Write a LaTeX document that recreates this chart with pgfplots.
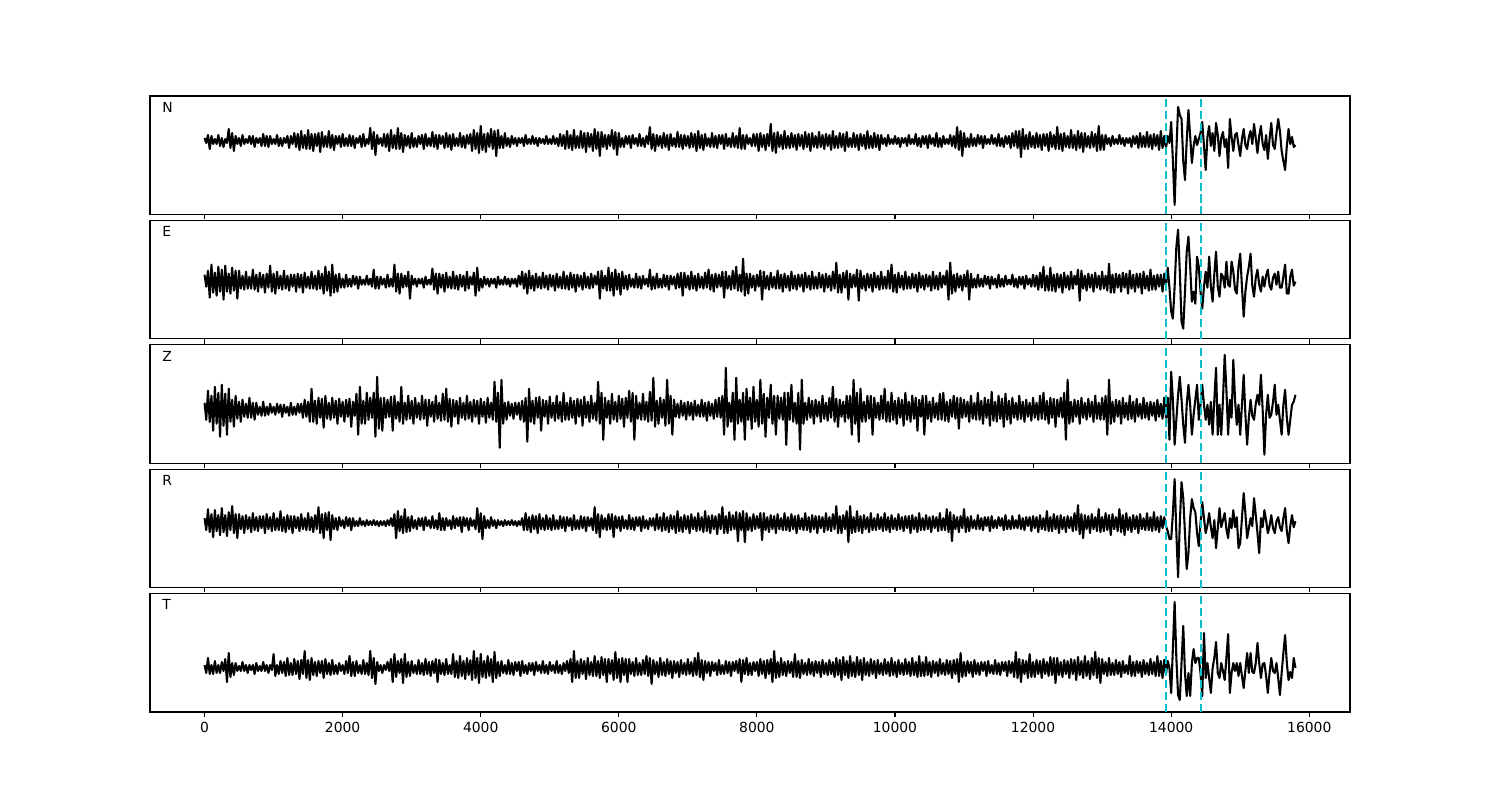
\documentclass[border=0pt]{standalone}
\usepackage{fontspec}
\setmainfont{DejaVu Sans}
\usepackage{pgfplots}
\usepackage{pgfplotstable}
\pgfplotsset{compat=1.18}
\definecolor{pick}{RGB}{12,190,200}

% one value every 25 samples, amplitudes in panel pixels; one line = 1000 samples
\pgfplotstableread[row sep=\\,header=false]{
3\\ -2\\ 6\\ -8\\ 5\\ -3\\ 2\\ -3\\ 6\\ -5\\ 3\\ -6\\ 2\\ -2\\ 12\\ -7\\ 8\\ -10\\ 5\\ -3\\ 3\\ -5\\ 6\\ -3\\ 2\\ -2\\ 5\\ -3\\ 5\\ -6\\ 3\\ -2\\ 3\\ -5\\ 7\\ -5\\ 5\\ -6\\ 5\\ -3\\
2\\ -3\\ 6\\ -5\\ 3\\ -5\\ 3\\ -2\\ 5\\ -7\\ 5\\ -3\\ 8\\ -6\\ 7\\ -9\\ 10\\ -7\\ 6\\ -8\\ 11\\ -8\\ 7\\ -10\\ 7\\ -5\\ 8\\ -11\\ 9\\ -6\\ 5\\ -6\\ 10\\ -7\\ 6\\ -9\\ 5\\ -3\\ 5\\ -6\\
7\\ -5\\ 3\\ -5\\ 6\\ -5\\ 5\\ -7\\ 3\\ -2\\ 5\\ -6\\ 7\\ -5\\ 2\\ -3\\ 13\\ -8\\ 9\\ -14\\ 6\\ -3\\ 3\\ -5\\ 7\\ -6\\ 7\\ -10\\ 11\\ -7\\ 6\\ -8\\ 13\\ -8\\ 8\\ -11\\ 6\\ -5\\ 5\\ -7\\
8\\ -6\\ 3\\ -6\\ 5\\ -3\\ 6\\ -8\\ 7\\ -5\\ 3\\ -5\\ 9\\ -6\\ 6\\ -8\\ 6\\ -3\\ 5\\ -7\\ 8\\ -6\\ 6\\ -9\\ 7\\ -5\\ 3\\ -5\\ 8\\ -6\\ 5\\ -7\\ 6\\ -3\\ 7\\ -10\\ 11\\ -8\\ 8\\ -12\\
15\\ -9\\ 7\\ -11\\ 8\\ -6\\ 12\\ -8\\ 10\\ -15\\ 11\\ -7\\ 5\\ -7\\ 8\\ -5\\ 3\\ -6\\ 5\\ -3\\ 3\\ -5\\ 3\\ -2\\ 3\\ -5\\ 6\\ -3\\ 2\\ -3\\ 5\\ -3\\ 3\\ -5\\ 3\\ -2\\ 2\\ -3\\ 5\\ -3\\
2\\ -3\\ 5\\ -3\\ 3\\ -5\\ 7\\ -5\\ 6\\ -8\\ 10\\ -7\\ 6\\ -9\\ 11\\ -7\\ 5\\ -7\\ 10\\ -7\\ 8\\ -11\\ 8\\ -6\\ 7\\ -10\\ 12\\ -8\\ 9\\ -15\\ 9\\ -6\\ 6\\ -8\\ 6\\ -5\\ 11\\ -8\\ 9\\ -14\\
8\\ -6\\ 3\\ -6\\ 5\\ -3\\ 5\\ -7\\ 6\\ -3\\ 3\\ -5\\ 7\\ -5\\ 3\\ -6\\ 5\\ -3\\ 14\\ -8\\ 7\\ -10\\ 6\\ -5\\ 5\\ -7\\ 8\\ -6\\ 6\\ -9\\ 7\\ -5\\ 3\\ -6\\ 9\\ -6\\ 6\\ -8\\ 6\\ -5\\
5\\ -7\\ 8\\ -6\\ 7\\ -10\\ 10\\ -7\\ 6\\ -9\\ 7\\ -5\\ 3\\ -6\\ 8\\ -6\\ 5\\ -7\\ 6\\ -3\\ 6\\ -8\\ 7\\ -5\\ 3\\ -6\\ 8\\ -6\\ 5\\ -7\\ 13\\ -8\\ 6\\ -8\\ 6\\ -3\\ 3\\ -5\\ 7\\ -5\\
7\\ -10\\ 8\\ -6\\ 6\\ -9\\ 7\\ -5\\ 17\\ -10\\ 8\\ -12\\ 9\\ -6\\ 6\\ -8\\ 10\\ -7\\ 5\\ -7\\ 8\\ -6\\ 6\\ -9\\ 7\\ -5\\ 6\\ -8\\ 9\\ -6\\ 7\\ -10\\ 8\\ -6\\ 5\\ -7\\ 9\\ -6\\ 6\\ -8\\
7\\ -5\\ 6\\ -9\\ 10\\ -7\\ 5\\ -7\\ 8\\ -6\\ 7\\ -10\\ 9\\ -6\\ 3\\ -6\\ 8\\ -6\\ 6\\ -9\\ 7\\ -5\\ 6\\ -8\\ 10\\ -7\\ 5\\ -7\\ 8\\ -6\\ 6\\ -9\\ 6\\ -3\\ 3\\ -5\\ 6\\ -3\\ 2\\ -3\\
5\\ -3\\ 3\\ -6\\ 3\\ -2\\ 3\\ -5\\ 6\\ -3\\ 2\\ -3\\ 7\\ -5\\ 3\\ -6\\ 5\\ -3\\ 5\\ -7\\ 6\\ -3\\ 3\\ -5\\ 8\\ -6\\ 3\\ -6\\ 5\\ -3\\ 2\\ -3\\ 6\\ -5\\ 5\\ -7\\ 14\\ -9\\ 10\\ -15\\
8\\ -6\\ 3\\ -6\\ 7\\ -5\\ 3\\ -5\\ 6\\ -3\\ 5\\ -7\\ 5\\ -3\\ 2\\ -3\\ 6\\ -3\\ 3\\ -5\\ 7\\ -5\\ 3\\ -6\\ 5\\ -3\\ 5\\ -7\\ 8\\ -5\\ 10\\ -7\\ 10\\ -16\\ 12\\ -8\\ 6\\ -8\\ 9\\ -6\\
5\\ -7\\ 8\\ -6\\ 6\\ -9\\ 7\\ -5\\ 7\\ -10\\ 9\\ -6\\ 6\\ -8\\ 14\\ -8\\ 7\\ -10\\ 8\\ -6\\ 5\\ -7\\ 11\\ -7\\ 6\\ -9\\ 10\\ -7\\ 8\\ -11\\ 8\\ -6\\ 5\\ -7\\ 9\\ -6\\ 7\\ -10\\ 15\\ -9\\
6\\ -9\\ 6\\ -3\\ 3\\ -5\\ 5\\ -3\\ 2\\ -3\\ 6\\ -3\\ 3\\ -5\\ 3\\ -2\\ 3\\ -6\\ 5\\ -3\\ 5\\ -7\\ 8\\ -6\\ 5\\ -6\\ 9\\ -6\\ 6\\ -8\\ 7\\ -5\\ 6\\ -9\\ 10\\ -7\\ 5\\ -7\\ 5\\ -2\\
19\\ -20\\ -64\\ -10\\ 34\\ 26\\ 22\\ -20\\ -39\\ 0\\ 31\\ 5\\ -22\\ -5\\ 5\\ -4\\ 2\\ 8\\ 19\\ -5\\ -29\\ 4\\ 15\\ -5\\ 8\\ -10\\ 18\\ 6\\ -15\\ 3\\ 9\\ -6\\ 2\\ -27\\ 22\\ 4\\ -10\\ 6\\ 8\\ -4\\
-15\\ 2\\ 12\\ -4\\ -8\\ 4\\ 10\\ -3\\ 17\\ 3\\ -12\\ 5\\ 15\\ -3\\ -9\\ 6\\ -18\\ 2\\ 18\\ -4\\ -8\\ 8\\ 22\\ 10\\ -10\\ -20\\ -29\\ -5\\ 12\\ -3\\ 4\\ -6\\ -4\\
}\tN

\pgfplotstableread[row sep=\\,header=false]{
7\\ -5\\ 11\\ -16\\ 17\\ -11\\ 9\\ -14\\ 15\\ -10\\ 12\\ -18\\ 16\\ -10\\ 8\\ -12\\ 14\\ -9\\ 11\\ -17\\ 11\\ -7\\ 6\\ -8\\ 10\\ -7\\ 5\\ -7\\ 12\\ -8\\ 7\\ -10\\ 9\\ -6\\ 7\\ -11\\ 8\\ -6\\ 16\\ -10\\
8\\ -12\\ 10\\ -7\\ 6\\ -8\\ 11\\ -7\\ 6\\ -9\\ 7\\ -5\\ 7\\ -10\\ 8\\ -6\\ 7\\ -11\\ 9\\ -6\\ 5\\ -7\\ 10\\ -7\\ 6\\ -8\\ 11\\ -7\\ 8\\ -12\\ 15\\ -9\\ 10\\ -14\\ 17\\ -11\\ 7\\ -10\\ 8\\ -6\\
3\\ -6\\ 7\\ -5\\ 3\\ -5\\ 6\\ -3\\ 5\\ -7\\ 5\\ -3\\ 2\\ -3\\ 6\\ -3\\ 3\\ -5\\ 12\\ -7\\ 5\\ -7\\ 5\\ -3\\ 3\\ -6\\ 7\\ -5\\ 3\\ -5\\ 17\\ -10\\ 8\\ -12\\ 8\\ -6\\ 6\\ -5\\ 10\\ -17\\
6\\ -3\\ 3\\ -5\\ 3\\ -2\\ 3\\ -6\\ 5\\ -3\\ 2\\ -3\\ 13\\ -8\\ 8\\ -12\\ 8\\ -6\\ 7\\ -10\\ 9\\ -6\\ 5\\ -7\\ 10\\ -7\\ 6\\ -8\\ 7\\ -5\\ 6\\ -9\\ 10\\ -7\\ 5\\ -3\\ 9\\ -14\\ 14\\ -9\\
3\\ -6\\ 5\\ -3\\ 3\\ -5\\ 3\\ -2\\ 3\\ -6\\ 5\\ -3\\ 2\\ -3\\ 5\\ -3\\ 3\\ -5\\ 3\\ -2\\ 3\\ -5\\ 6\\ -3\\ 10\\ -7\\ 8\\ -12\\ 11\\ -7\\ 6\\ -9\\ 8\\ -6\\ 5\\ -7\\ 9\\ -6\\ 6\\ -8\\
7\\ -5\\ 6\\ -9\\ 8\\ -6\\ 5\\ -7\\ 10\\ -7\\ 6\\ -8\\ 9\\ -6\\ 7\\ -10\\ 7\\ -5\\ 6\\ -8\\ 9\\ -6\\ 5\\ -7\\ 8\\ -6\\ 6\\ -3\\ 10\\ -17\\ 11\\ -7\\ 6\\ -9\\ 14\\ -9\\ 9\\ -14\\ 12\\ -8\\
8\\ -13\\ 10\\ -7\\ 6\\ -8\\ 7\\ -5\\ 3\\ -6\\ 8\\ -6\\ 5\\ -7\\ 6\\ -3\\ 3\\ -5\\ 12\\ -8\\ 5\\ -7\\ 8\\ -6\\ 3\\ -6\\ 7\\ -5\\ 6\\ -8\\ 6\\ -3\\ 5\\ -7\\ 8\\ -6\\ 9\\ -14\\ 9\\ -6\\
6\\ -8\\ 10\\ -7\\ 6\\ -9\\ 8\\ -6\\ 5\\ -7\\ 9\\ -6\\ 12\\ -8\\ 7\\ -10\\ 8\\ -6\\ 7\\ -5\\ 10\\ -16\\ 10\\ -7\\ 6\\ -8\\ 11\\ -7\\ 15\\ -9\\ 7\\ -10\\ 23\\ -14\\ 8\\ -12\\ 8\\ -6\\ 6\\ -9\\
7\\ -5\\ 11\\ -18\\ 10\\ -7\\ 6\\ -8\\ 9\\ -6\\ 5\\ -7\\ 11\\ -7\\ 7\\ -10\\ 8\\ -6\\ 6\\ -9\\ 10\\ -7\\ 6\\ -8\\ 7\\ -5\\ 7\\ -10\\ 9\\ -6\\ 6\\ -8\\ 10\\ -7\\ 5\\ -7\\ 9\\ -6\\ 7\\ -10\\
8\\ -6\\ 6\\ -9\\ 10\\ -7\\ 19\\ -11\\ 7\\ -11\\ 9\\ -6\\ 11\\ -18\\ 8\\ -6\\ 7\\ -5\\ 12\\ -19\\ 11\\ -7\\ 6\\ -9\\ 8\\ -6\\ 7\\ -10\\ 9\\ -6\\ 6\\ -8\\ 10\\ -7\\ 5\\ -7\\ 11\\ -7\\ 17\\ -10\\
7\\ -11\\ 9\\ -6\\ 6\\ -8\\ 10\\ -7\\ 5\\ -7\\ 8\\ -6\\ 7\\ -10\\ 9\\ -6\\ 6\\ -8\\ 7\\ -5\\ 6\\ -9\\ 10\\ -7\\ 6\\ -8\\ 9\\ -6\\ 6\\ -3\\ 11\\ -18\\ 19\\ -12\\ 7\\ -10\\ 8\\ -6\\ 6\\ -9\\
7\\ -5\\ 11\\ -18\\ 8\\ -6\\ 3\\ -6\\ 7\\ -5\\ 3\\ -5\\ 6\\ -3\\ 5\\ -7\\ 5\\ -3\\ 3\\ -6\\ 7\\ -5\\ 3\\ -5\\ 6\\ -3\\ 2\\ -3\\ 7\\ -5\\ 3\\ -6\\ 5\\ -3\\ 5\\ -7\\ 6\\ -3\\ 3\\ -5\\
7\\ -5\\ 6\\ -8\\ 9\\ -6\\ 15\\ -9\\ 6\\ -9\\ 14\\ -9\\ 7\\ -10\\ 8\\ -6\\ 7\\ -11\\ 9\\ -6\\ 6\\ -8\\ 10\\ -7\\ 6\\ -3\\ 12\\ -19\\ 11\\ -7\\ 6\\ -9\\ 8\\ -6\\ 7\\ -10\\ 9\\ -6\\ 6\\ -8\\
10\\ -7\\ 6\\ -9\\ 18\\ -11\\ 7\\ -11\\ 8\\ -6\\ 7\\ -10\\ 9\\ -6\\ 8\\ -12\\ 11\\ -7\\ 7\\ -10\\ 8\\ -6\\ 8\\ -12\\ 10\\ -7\\ 6\\ -9\\ 12\\ -8\\ 6\\ -8\\ 7\\ -5\\ 7\\ -10\\ 8\\ -3\\ 14\\ -6\\
-30\\ -37\\ -5\\ 35\\ 52\\ 10\\ -40\\ -47\\ -10\\ 30\\ 45\\ 15\\ -20\\ -10\\ -22\\ 25\\ 15\\ -10\\ -27\\ -5\\ 10\\ -6\\ 25\\ -5\\ -20\\ 8\\ 30\\ -5\\ -15\\ 8\\ 5\\ -6\\ 20\\ -3\\ -5\\ 20\\ 10\\ -8\\ -12\\ 15\\
28\\ -5\\ -35\\ -10\\ 5\\ 15\\ 28\\ -4\\ -15\\ 4\\ 12\\ -3\\ -10\\ 5\\ -5\\ 6\\ 12\\ -4\\ -8\\ 4\\ 8\\ -3\\ 10\\ -6\\ -6\\ 5\\ 17\\ -12\\ -12\\ 5\\ 12\\ -4\\ 0\\
}\tE

\pgfplotstableread[row sep=\\,header=false]{
7\\ -10\\ 19\\ -12\\ 14\\ -21\\ 23\\ -14\\ 17\\ -27\\ 25\\ -16\\ 16\\ -25\\ 21\\ -12\\ 10\\ -17\\ 14\\ -9\\ 8\\ -12\\ 10\\ -7\\ 6\\ -8\\ 12\\ -8\\ 7\\ -10\\ 7\\ -5\\ 3\\ -6\\ 8\\ -6\\ 3\\ -5\\ 6\\ -3\\
3\\ -5\\ 6\\ -3\\ 5\\ -7\\ 5\\ -3\\ 3\\ -6\\ 7\\ -5\\ 3\\ -5\\ 6\\ -3\\ 6\\ -8\\ 10\\ -7\\ 8\\ -12\\ 21\\ -12\\ 9\\ -14\\ 12\\ -8\\ 11\\ -18\\ 14\\ -9\\ 7\\ -10\\ 12\\ -8\\ 9\\ -14\\ 11\\ -7\\
8\\ -12\\ 10\\ -7\\ 11\\ -17\\ 8\\ -6\\ 16\\ -25\\ 23\\ -14\\ 9\\ -14\\ 17\\ -10\\ 12\\ -8\\ 17\\ -27\\ 33\\ -19\\ 12\\ -21\\ 12\\ -8\\ 10\\ -7\\ 13\\ -21\\ 14\\ -9\\ 8\\ -12\\ 23\\ -14\\ 7\\ -10\\ 14\\ -9\\
9\\ -14\\ 12\\ -8\\ 7\\ -10\\ 14\\ -9\\ 10\\ -16\\ 10\\ -7\\ 8\\ -12\\ 14\\ -9\\ 7\\ -11\\ 16\\ -10\\ 21\\ -12\\ 11\\ -17\\ 10\\ -7\\ 9\\ -14\\ 12\\ -8\\ 7\\ -10\\ 14\\ -9\\ 8\\ -12\\ 10\\ -7\\ 9\\ -14\\
11\\ -7\\ 8\\ -13\\ 12\\ -8\\ 7\\ -10\\ 28\\ -12\\ 17\\ -38\\ 30\\ -14\\ 7\\ -10\\ 8\\ -6\\ 6\\ -9\\ 7\\ -5\\ 7\\ -10\\ 9\\ -12\\ 12\\ -32\\ 21\\ -12\\ 9\\ -14\\ 12\\ -8\\ 13\\ -21\\ 10\\ -7\\ 9\\ -14\\
13\\ -8\\ 7\\ -11\\ 14\\ -9\\ 8\\ -12\\ 17\\ -10\\ 7\\ -10\\ 12\\ -8\\ 9\\ -14\\ 11\\ -7\\ 10\\ -16\\ 13\\ -8\\ 8\\ -12\\ 14\\ -9\\ 7\\ -11\\ 28\\ -14\\ 17\\ -30\\ 12\\ -8\\ 9\\ -14\\ 16\\ -10\\ 8\\ -12\\
14\\ -9\\ 11\\ -17\\ 12\\ -8\\ 19\\ -12\\ 17\\ -30\\ 14\\ -9\\ 7\\ -10\\ 16\\ -10\\ 8\\ -12\\ 18\\ -11\\ 32\\ -17\\ 9\\ -14\\ 12\\ -8\\ 10\\ -16\\ 30\\ -14\\ 14\\ -25\\ 10\\ -7\\ 6\\ -8\\ 9\\ -6\\ 7\\ -10\\
8\\ -6\\ 7\\ -10\\ 9\\ -6\\ 5\\ -7\\ 10\\ -7\\ 7\\ -11\\ 8\\ -6\\ 6\\ -9\\ 10\\ -7\\ 12\\ -8\\ 14\\ -25\\ 42\\ -17\\ 7\\ -12\\ 17\\ -30\\ 32\\ -14\\ 10\\ -12\\ 17\\ -30\\ 21\\ -10\\ 12\\ -19\\ 23\\ -12\\
10\\ -17\\ 30\\ -14\\ 16\\ -27\\ 12\\ -8\\ 25\\ -14\\ 14\\ -25\\ 14\\ -9\\ 12\\ -10\\ 17\\ -35\\ 17\\ -10\\ 25\\ -12\\ 7\\ -14\\ 17\\ -40\\ 30\\ -14\\ 7\\ -10\\ 12\\ -8\\ 9\\ -14\\ 10\\ -7\\ 8\\ -12\\ 14\\ -9\\
7\\ -11\\ 12\\ -8\\ 23\\ -12\\ 11\\ -17\\ 10\\ -7\\ 8\\ -12\\ 14\\ -9\\ 14\\ -25\\ 30\\ -14\\ 17\\ -32\\ 21\\ -12\\ 8\\ -12\\ 14\\ -9\\ 14\\ -25\\ 12\\ -8\\ 7\\ -10\\ 14\\ -9\\ 21\\ -12\\ 8\\ -12\\ 17\\ -10\\
9\\ -14\\ 12\\ -8\\ 10\\ -16\\ 17\\ -10\\ 8\\ -12\\ 14\\ -9\\ 12\\ -21\\ 10\\ -7\\ 14\\ -25\\ 14\\ -9\\ 8\\ -12\\ 12\\ -8\\ 7\\ -10\\ 16\\ -10\\ 17\\ -11\\ 8\\ -12\\ 10\\ -7\\ 14\\ -9\\ 12\\ -19\\ 12\\ -8\\
10\\ -7\\ 8\\ -12\\ 14\\ -9\\ 7\\ -10\\ 17\\ -10\\ 9\\ -14\\ 12\\ -8\\ 10\\ -16\\ 18\\ -11\\ 8\\ -12\\ 14\\ -9\\ 11\\ -17\\ 16\\ -10\\ 9\\ -14\\ 12\\ -8\\ 7\\ -10\\ 14\\ -9\\ 8\\ -12\\ 10\\ -7\\ 7\\ -11\\
12\\ -8\\ 7\\ -10\\ 14\\ -9\\ 17\\ -10\\ 9\\ -14\\ 12\\ -8\\ 11\\ -17\\ 10\\ -7\\ 12\\ -8\\ 17\\ -30\\ 30\\ -14\\ 8\\ -12\\ 10\\ -7\\ 9\\ -14\\ 12\\ -8\\ 7\\ -10\\ 11\\ -7\\ 8\\ -12\\ 14\\ -9\\ 7\\ -10\\
12\\ -10\\ 14\\ -25\\ 30\\ -14\\ 8\\ -12\\ 10\\ -7\\ 9\\ -14\\ 12\\ -8\\ 7\\ -10\\ 14\\ -9\\ 8\\ -12\\ 11\\ -7\\ 6\\ -9\\ 12\\ -8\\ 7\\ -10\\ 8\\ -6\\ 7\\ -11\\ 10\\ -7\\ 6\\ -9\\ 12\\ -8\\ 12\\ -30\\
38\\ 10\\ -35\\ -10\\ 15\\ 33\\ 10\\ -15\\ -33\\ 5\\ 25\\ 5\\ -25\\ -5\\ 10\\ 25\\ -10\\ 5\\ 25\\ 5\\ -10\\ 5\\ -15\\ 8\\ -25\\ 10\\ 42\\ -25\\ 5\\ -25\\ 10\\ 55\\ 20\\ -25\\ 10\\ -8\\ 50\\ 10\\ -15\\ 5\\
-25\\ 5\\ 35\\ -5\\ -35\\ -8\\ 10\\ -6\\ -10\\ 6\\ 15\\ 5\\ 35\\ 0\\ -45\\ -5\\ 15\\ -8\\ -5\\ 8\\ 25\\ -5\\ 5\\ -10\\ -25\\ 5\\ 20\\ -8\\ -25\\ -10\\ 5\\ 8\\ 15\\
}\tZ

\pgfplotstableread[row sep=\\,header=false]{
5\\ -7\\ 14\\ -9\\ 9\\ -14\\ 13\\ -8\\ 8\\ -12\\ 15\\ -9\\ 8\\ -13\\ 11\\ -7\\ 17\\ -10\\ 9\\ -15\\ 9\\ -6\\ 7\\ -10\\ 8\\ -6\\ 6\\ -9\\ 10\\ -7\\ 6\\ -8\\ 7\\ -5\\ 7\\ -10\\ 9\\ -6\\ 6\\ -8\\
10\\ -7\\ 5\\ -7\\ 12\\ -8\\ 6\\ -9\\ 8\\ -6\\ 7\\ -10\\ 7\\ -5\\ 6\\ -8\\ 9\\ -6\\ 5\\ -7\\ 10\\ -7\\ 6\\ -9\\ 8\\ -6\\ 16\\ -10\\ 9\\ -15\\ 10\\ -7\\ 11\\ -17\\ 8\\ -6\\ 5\\ -7\\ 6\\ -3\\
3\\ -5\\ 6\\ -3\\ 5\\ -7\\ 5\\ -3\\ 2\\ -3\\ 5\\ -2\\ 2\\ -3\\ 3\\ -2\\ 2\\ -2\\ 3\\ -2\\ 2\\ -3\\ 2\\ -2\\ 2\\ -3\\ 3\\ -2\\ 5\\ -3\\ 9\\ -15\\ 12\\ -8\\ 7\\ -10\\ 14\\ -9\\ 6\\ -8\\
7\\ -5\\ 3\\ -6\\ 5\\ -3\\ 5\\ -7\\ 6\\ -3\\ 3\\ -5\\ 7\\ -5\\ 3\\ -6\\ 10\\ -7\\ 5\\ -7\\ 5\\ -3\\ 3\\ -6\\ 7\\ -5\\ 5\\ -3\\ 6\\ -9\\ 6\\ -3\\ 5\\ -7\\ 5\\ -3\\ 3\\ -6\\ 15\\ -9\\
10\\ -16\\ 7\\ -5\\ 3\\ -5\\ 6\\ -3\\ 3\\ -5\\ 3\\ -2\\ 2\\ -3\\ 3\\ -2\\ 2\\ -2\\ 3\\ -2\\ 2\\ -3\\ 2\\ -2\\ 5\\ -7\\ 10\\ -7\\ 6\\ -9\\ 8\\ -6\\ 7\\ -10\\ 9\\ -6\\ 5\\ -7\\ 8\\ -6\\
5\\ -7\\ 8\\ -6\\ 3\\ -6\\ 7\\ -5\\ 6\\ -8\\ 6\\ -3\\ 5\\ -7\\ 8\\ -6\\ 3\\ -6\\ 7\\ -5\\ 6\\ -8\\ 6\\ -3\\ 5\\ -7\\ 16\\ -10\\ 9\\ -14\\ 8\\ -6\\ 5\\ -7\\ 9\\ -6\\ 9\\ -14\\ 7\\ -5\\
6\\ -8\\ 7\\ -5\\ 3\\ -6\\ 8\\ -6\\ 5\\ -7\\ 6\\ -3\\ 6\\ -8\\ 7\\ -5\\ 3\\ -6\\ 5\\ -3\\ 5\\ -7\\ 9\\ -6\\ 6\\ -8\\ 10\\ -7\\ 6\\ -9\\ 8\\ -6\\ 7\\ -10\\ 12\\ -8\\ 6\\ -9\\ 8\\ -6\\
7\\ -10\\ 9\\ -6\\ 6\\ -8\\ 10\\ -7\\ 6\\ -9\\ 12\\ -8\\ 7\\ -10\\ 8\\ -6\\ 7\\ -11\\ 9\\ -6\\ 16\\ -10\\ 7\\ -10\\ 11\\ -7\\ 8\\ -6\\ 11\\ -18\\ 10\\ -7\\ 12\\ -19\\ 10\\ -7\\ 6\\ -8\\ 9\\ -6\\
7\\ -5\\ 10\\ -17\\ 10\\ -7\\ 6\\ -9\\ 8\\ -6\\ 7\\ -10\\ 9\\ -6\\ 5\\ -7\\ 10\\ -7\\ 6\\ -8\\ 9\\ -6\\ 7\\ -10\\ 8\\ -6\\ 5\\ -7\\ 10\\ -7\\ 6\\ -9\\ 8\\ -6\\ 7\\ -10\\ 7\\ -5\\ 6\\ -9\\
10\\ -7\\ 6\\ -8\\ 9\\ -6\\ 17\\ -10\\ 7\\ -10\\ 8\\ -6\\ 12\\ -19\\ 17\\ -10\\ 6\\ -9\\ 12\\ -8\\ 7\\ -10\\ 8\\ -6\\ 6\\ -9\\ 10\\ -7\\ 5\\ -7\\ 9\\ -6\\ 6\\ -8\\ 10\\ -7\\ 6\\ -9\\ 8\\ -6\\
5\\ -7\\ 9\\ -6\\ 6\\ -8\\ 7\\ -5\\ 7\\ -10\\ 8\\ -6\\ 6\\ -9\\ 10\\ -7\\ 5\\ -7\\ 8\\ -6\\ 6\\ -9\\ 7\\ -5\\ 6\\ -8\\ 10\\ -7\\ 5\\ -7\\ 14\\ -9\\ 11\\ -18\\ 8\\ -6\\ 6\\ -9\\ 7\\ -5\\
14\\ -9\\ 6\\ -8\\ 7\\ -5\\ 3\\ -6\\ 8\\ -6\\ 5\\ -7\\ 6\\ -3\\ 6\\ -8\\ 7\\ -5\\ 3\\ -5\\ 6\\ -3\\ 5\\ -7\\ 8\\ -6\\ 3\\ -6\\ 7\\ -5\\ 3\\ -5\\ 8\\ -6\\ 5\\ -7\\ 6\\ -3\\ 6\\ -8\\
7\\ -5\\ 6\\ -9\\ 8\\ -6\\ 5\\ -7\\ 12\\ -8\\ 6\\ -8\\ 9\\ -6\\ 7\\ -10\\ 8\\ -6\\ 6\\ -9\\ 7\\ -5\\ 6\\ -8\\ 10\\ -7\\ 18\\ -11\\ 9\\ -15\\ 8\\ -6\\ 7\\ -10\\ 9\\ -6\\ 6\\ -8\\ 14\\ -9\\
6\\ -8\\ 10\\ -7\\ 8\\ -12\\ 9\\ -6\\ 6\\ -8\\ 14\\ -9\\ 8\\ -12\\ 10\\ -7\\ 6\\ -9\\ 8\\ -6\\ 7\\ -10\\ 9\\ -6\\ 5\\ -7\\ 10\\ -7\\ 6\\ -8\\ 11\\ -7\\ 6\\ -9\\ 7\\ -5\\ 6\\ -3\\ -8\\ -16\\
-16\\ 10\\ 44\\ -10\\ -54\\ 0\\ 41\\ 25\\ -10\\ -46\\ -30\\ 5\\ 24\\ 15\\ 11\\ -10\\ -23\\ 0\\ 21\\ 5\\ -10\\ -2\\ 10\\ -4\\ -15\\ 3\\ -25\\ -5\\ 15\\ -4\\ 3\\ 10\\ -6\\ -15\\ 5\\ -5\\ 13\\ -4\\ 6\\ -25\\
-20\\ 5\\ 30\\ 10\\ -15\\ -5\\ 5\\ -3\\ 25\\ 8\\ -10\\ -30\\ 5\\ -4\\ 13\\ 3\\ -10\\ -3\\ 8\\ -5\\ -10\\ 2\\ 6\\ -4\\ -8\\ 5\\ 15\\ -8\\ -20\\ -3\\ 8\\ -4\\ 2\\
}\tR

\pgfplotstableread[row sep=\\,header=false]{
3\\ -5\\ 10\\ -6\\ 3\\ -6\\ 7\\ -5\\ 3\\ -5\\ 6\\ -3\\ 9\\ -14\\ 15\\ -9\\ 5\\ -7\\ 5\\ -3\\ 2\\ -3\\ 6\\ -3\\ 3\\ -5\\ 3\\ -2\\ 3\\ -6\\ 5\\ -3\\ 2\\ -3\\ 6\\ -3\\ 3\\ -5\\ 3\\ -2\\
14\\ -8\\ 3\\ -6\\ 7\\ -5\\ 6\\ -8\\ 10\\ -7\\ 5\\ -7\\ 9\\ -6\\ 7\\ -11\\ 8\\ -6\\ 17\\ -10\\ 8\\ -12\\ 10\\ -7\\ 6\\ -8\\ 7\\ -5\\ 7\\ -10\\ 9\\ -6\\ 5\\ -7\\ 8\\ -6\\ 3\\ -6\\ 5\\ -3\\
3\\ -6\\ 7\\ -5\\ 12\\ -8\\ 6\\ -8\\ 7\\ -5\\ 3\\ -6\\ 8\\ -6\\ 5\\ -7\\ 17\\ -10\\ 10\\ -16\\ 6\\ -3\\ 3\\ -5\\ 3\\ -2\\ 6\\ -3\\ 9\\ -14\\ 14\\ -9\\ 7\\ -5\\ 9\\ -15\\ 14\\ -9\\ 6\\ -8\\
7\\ -5\\ 3\\ -6\\ 8\\ -6\\ 5\\ -7\\ 9\\ -6\\ 6\\ -8\\ 7\\ -5\\ 9\\ -14\\ 8\\ -6\\ 5\\ -7\\ 9\\ -6\\ 3\\ -6\\ 14\\ -9\\ 7\\ -10\\ 12\\ -8\\ 7\\ -11\\ 10\\ -7\\ 8\\ -12\\ 17\\ -10\\ 10\\ -15\\
14\\ -9\\ 7\\ -10\\ 12\\ -8\\ 9\\ -14\\ 16\\ -10\\ 6\\ -8\\ 7\\ -5\\ 3\\ -6\\ 8\\ -6\\ 5\\ -7\\ 6\\ -3\\ 6\\ -8\\ 7\\ -5\\ 3\\ -6\\ 5\\ -3\\ 5\\ -7\\ 6\\ -3\\ 3\\ -5\\ 7\\ -5\\ 3\\ -6\\
6\\ -3\\ 3\\ -5\\ 7\\ -5\\ 3\\ -6\\ 5\\ -3\\ 7\\ -5\\ 9\\ -14\\ 17\\ -10\\ 7\\ -10\\ 9\\ -6\\ 7\\ -11\\ 10\\ -7\\ 6\\ -8\\ 12\\ -8\\ 7\\ -10\\ 11\\ -7\\ 9\\ -14\\ 9\\ -6\\ 8\\ -12\\ 16\\ -10\\
9\\ -14\\ 10\\ -7\\ 9\\ -14\\ 9\\ -6\\ 6\\ -8\\ 10\\ -7\\ 5\\ -7\\ 8\\ -6\\ 12\\ -8\\ 10\\ -16\\ 8\\ -6\\ 6\\ -9\\ 10\\ -7\\ 6\\ -8\\ 9\\ -6\\ 7\\ -10\\ 7\\ -5\\ 6\\ -9\\ 8\\ -6\\ 5\\ -7\\
9\\ -6\\ 6\\ -8\\ 10\\ -7\\ 15\\ -9\\ 8\\ -12\\ 7\\ -5\\ 6\\ -8\\ 6\\ -3\\ 5\\ -7\\ 8\\ -6\\ 3\\ -6\\ 7\\ -5\\ 6\\ -8\\ 6\\ -3\\ 7\\ -5\\ 9\\ -14\\ 8\\ -6\\ 10\\ -7\\ 5\\ -7\\ 6\\ -3\\
6\\ -8\\ 9\\ -6\\ 7\\ -10\\ 8\\ -6\\ 9\\ -14\\ 17\\ -10\\ 6\\ -9\\ 10\\ -7\\ 6\\ -8\\ 7\\ -5\\ 6\\ -9\\ 14\\ -9\\ 7\\ -10\\ 8\\ -6\\ 5\\ -7\\ 9\\ -6\\ 6\\ -8\\ 7\\ -5\\ 6\\ -9\\ 8\\ -6\\
5\\ -7\\ 8\\ -6\\ 6\\ -9\\ 10\\ -7\\ 8\\ -12\\ 11\\ -7\\ 7\\ -10\\ 12\\ -8\\ 6\\ -9\\ 11\\ -7\\ 8\\ -12\\ 10\\ -7\\ 6\\ -8\\ 9\\ -6\\ 7\\ -10\\ 8\\ -6\\ 5\\ -7\\ 9\\ -6\\ 6\\ -8\\ 10\\ -7\\
6\\ -9\\ 8\\ -6\\ 5\\ -7\\ 9\\ -6\\ 6\\ -8\\ 10\\ -7\\ 6\\ -9\\ 12\\ -8\\ 6\\ -8\\ 11\\ -7\\ 6\\ -9\\ 7\\ -5\\ 6\\ -8\\ 9\\ -6\\ 5\\ -7\\ 8\\ -6\\ 7\\ -10\\ 8\\ -6\\ 9\\ -14\\ 15\\ -9\\
6\\ -8\\ 7\\ -5\\ 6\\ -9\\ 8\\ -6\\ 5\\ -7\\ 6\\ -3\\ 6\\ -8\\ 7\\ -5\\ 3\\ -6\\ 8\\ -6\\ 5\\ -7\\ 6\\ -3\\ 6\\ -8\\ 7\\ -5\\ 6\\ -9\\ 16\\ -10\\ 9\\ -14\\ 8\\ -6\\ 7\\ -10\\ 14\\ -9\\
6\\ -9\\ 8\\ -6\\ 7\\ -10\\ 9\\ -6\\ 6\\ -8\\ 11\\ -7\\ 10\\ -15\\ 10\\ -7\\ 6\\ -9\\ 8\\ -6\\ 7\\ -10\\ 9\\ -6\\ 8\\ -12\\ 11\\ -7\\ 7\\ -10\\ 12\\ -8\\ 7\\ -11\\ 10\\ -7\\ 16\\ -10\\ 10\\ -15\\
9\\ -6\\ 6\\ -8\\ 10\\ -7\\ 5\\ -7\\ 8\\ -6\\ 6\\ -9\\ 7\\ -5\\ 3\\ -6\\ 12\\ -8\\ 6\\ -8\\ 7\\ -5\\ 6\\ -9\\ 8\\ -6\\ 5\\ -7\\ 9\\ -6\\ 6\\ -8\\ 12\\ -8\\ 7\\ -10\\ 8\\ -6\\ 7\\ 0\\
-25\\ 20\\ 66\\ 10\\ -27\\ -32\\ 5\\ 42\\ -5\\ -28\\ -5\\ -28\\ 5\\ 19\\ 5\\ 10\\ 10\\ -5\\ -28\\ 35\\ -10\\ 5\\ -10\\ -25\\ 0\\ 10\\ 26\\ -5\\ -10\\ 5\\ -3\\ -12\\ 10\\ 34\\ -25\\ -5\\ 5\\ -3\\ 5\\ -8\\
5\\ -8\\ -20\\ -2\\ 15\\ -5\\ 15\\ -4\\ -5\\ 5\\ 25\\ 5\\ -10\\ 4\\ 5\\ -8\\ -25\\ -5\\ 10\\ -3\\ -5\\ 5\\ -10\\ -27\\ -5\\ 15\\ 33\\ 5\\ -12\\ -4\\ -10\\ 10\\ 0\\
}\tT

\pgfplotsset{
  trace/.style={
    scale only axis, width=864pt, height=85.29pt,
    anchor=south west,
    xmin=-790, xmax=16590,
    xtick={0,2000,...,16000},
    scaled x ticks=false,
    ytick=\empty,
    xtick pos=lower,
    tick align=outside,
    major tick length=3.5pt,
    every tick/.style={black, line width=0.8pt},
    axis line style={line width=0.8pt},
    xticklabels={},
    clip=true,
  },
  wave/.style={black, line width=1.5pt, line join=round, no markers},
  pickline/.style={pick, line width=1.8pt, dash pattern=on 5.8pt off 2.8pt},
}
\tikzset{tag/.style={anchor=north west, inner sep=0pt, font=\fontsize{10}{12}\selectfont}}

\begin{document}
\begin{tikzpicture}
\path[use as bounding box] (0,0) rectangle (1080pt,576pt);

\begin{axis}[trace, at={(108pt,421.58pt)}, ymin=-73.5, ymax=45]
\addplot[wave] table[x expr=\coordindex*25, y index=0] {\tN};
\addplot[pickline] coordinates {(13925,-73.5) (13925,45)};
\addplot[pickline] coordinates {(14430,-73.5) (14430,45)};
\node[tag] at (rel axis cs:0.01,0.95) {N};
\end{axis}

\begin{axis}[trace, at={(108pt,332.03pt)}, ymin=-57.2, ymax=61.3]
\addplot[wave] table[x expr=\coordindex*25, y index=0] {\tE};
\addplot[pickline] coordinates {(13925,-57.2) (13925,61.3)};
\addplot[pickline] coordinates {(14430,-57.2) (14430,61.3)};
\node[tag] at (rel axis cs:0.01,0.95) {E};
\end{axis}

\begin{axis}[trace, at={(108pt,242.47pt)}, ymin=-53.5, ymax=65]
\addplot[wave] table[x expr=\coordindex*25, y index=0] {\tZ};
\addplot[pickline] coordinates {(13925,-53.5) (13925,65)};
\addplot[pickline] coordinates {(14430,-53.5) (14430,65)};
\node[tag] at (rel axis cs:0.01,0.95) {Z};
\end{axis}

\begin{axis}[trace, at={(108pt,152.92pt)}, ymin=-64.5, ymax=54]
\addplot[wave] table[x expr=\coordindex*25, y index=0] {\tR};
\addplot[pickline] coordinates {(13925,-64.5) (13925,54)};
\addplot[pickline] coordinates {(14430,-64.5) (14430,54)};
\node[tag] at (rel axis cs:0.01,0.95) {R};
\end{axis}

\begin{axis}[trace, at={(108pt,63.36pt)}, ymin=-44, ymax=74.5,
  xticklabels={0,2000,4000,6000,8000,10000,12000,14000,16000},
  xticklabel style={font=\fontsize{10}{12}\selectfont}]
\addplot[wave] table[x expr=\coordindex*25, y index=0] {\tT};
\addplot[pickline] coordinates {(13925,-44) (13925,74.5)};
\addplot[pickline] coordinates {(14430,-44) (14430,74.5)};
\node[tag] at (rel axis cs:0.01,0.95) {T};
\end{axis}
\end{tikzpicture}
\end{document}
